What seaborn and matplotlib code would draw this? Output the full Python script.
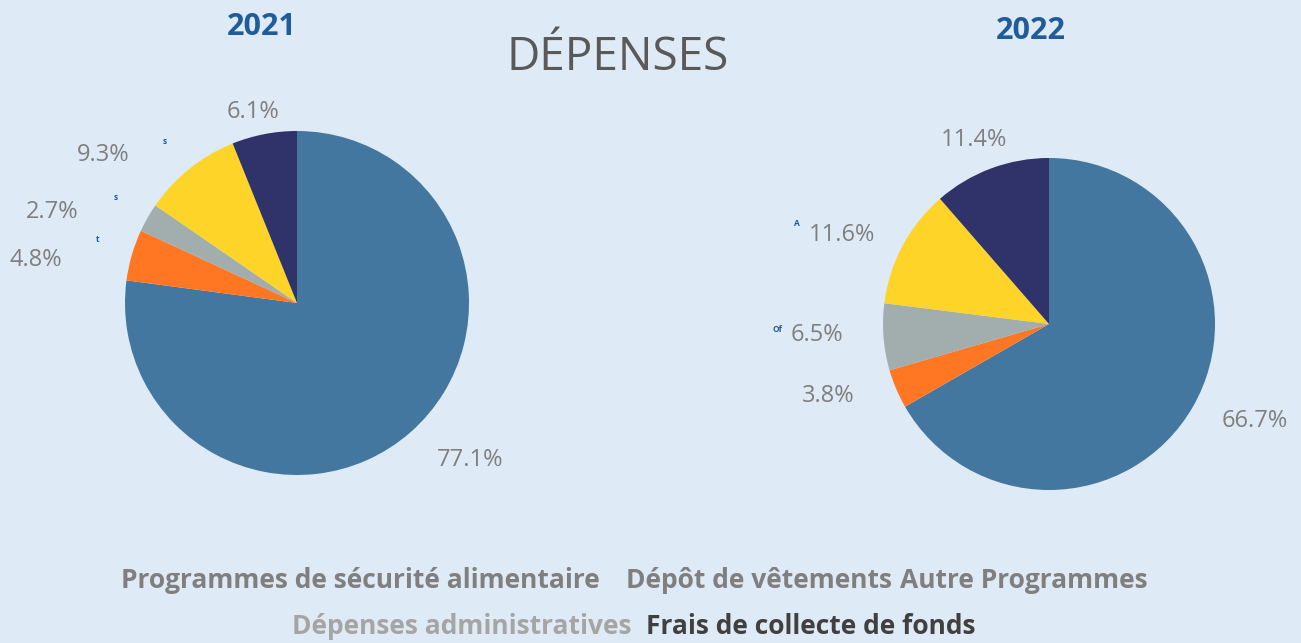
import matplotlib
matplotlib.use("Agg")
import matplotlib.pyplot as plt
import seaborn as sns

# -------------------------
# Data
# -------------------------
categories = [
    "Programmes de sécurité alimentaire",
    "Dépôt de vêtements",
    "Autre Programmes",
    "Dépenses administratives",
    "Frais de collecte de fonds",
]
years = ["2021", "2022"]
values_2021 = [77.1, 4.8, 2.7, 9.3, 6.1]
values_2022 = [66.7, 3.8, 6.5, 11.6, 11.4]

# -------------------------
# Style
# -------------------------
bg = "#DEEAF6"
palette = sns.color_palette(["#44779F", "#FF7722", "#A2ADAD", "#FED428", "#2F3369"])
sns.set_theme(style="white", rc={"figure.facecolor": bg, "axes.facecolor": bg})
plt.rcParams["font.family"] = ["Open Sans", "DejaVu Sans"]

fig = plt.figure(figsize=(13.01, 6.43), dpi=100)
W, H = 1301, 643


def pie_axes(cx, cy, r):
    half = 1.5 * r
    ax = fig.add_axes([(cx - half) / W, (H - cy - half) / H, 2 * half / W, 2 * half / H])
    ax.set_facecolor(bg)
    return ax


# label offsets in pie-radius units (layout only)
label_pos_2021 = [(1.006, -0.913), (-1.517, 0.25), (-1.424, 0.529), (-1.128, 0.860), (-0.256, 1.110)]
label_pos_2022 = [(1.241, -0.584), (-1.331, -0.434), (-1.398, -0.066), (-1.247, 0.536), (-0.452, 1.108)]

for vals, pos, (cx, cy, r) in [
    (values_2021, label_pos_2021, (297, 303, 172)),
    (values_2022, label_pos_2022, (1049, 324, 166)),
]:
    ax = pie_axes(cx, cy, r)
    ax.pie(vals, colors=palette, startangle=90, counterclock=False,
           wedgeprops={"linewidth": 0})
    ax.set_xlim(-1.5, 1.5)
    ax.set_ylim(-1.5, 1.5)
    ax.set_aspect("equal")
    ax.axis("off")
    for v, (x, y) in zip(vals, pos):
        ax.text(x, y, f"{v:.1f}%", ha="center", va="center", fontsize=17,
                color="#7F7F7F")

# stray truncated data labels visible in the source
for s, x, y in [("s", 165, 142), ("s", 116, 198), ("t", 98, 240), ("A", 797, 224), ("Of", 777, 330)]:
    fig.text(x / W, 1 - y / H, s, ha="center", va="center", fontsize=6,
             color="#1F5C99", fontweight="bold")

# -------------------------
# Titles
# -------------------------
fig.text(262 / W, 1 - 27 / H, years[0], ha="center", va="center", fontsize=22,
         fontweight="bold", color="#1F5C99")
fig.text(1031 / W, 1 - 31 / H, years[1], ha="center", va="center", fontsize=22,
         fontweight="bold", color="#1F5C99")
fig.text(618 / W, 1 - 58 / H, "DÉPENSES", ha="center", va="center", fontsize=33,
         color="#595959")

# -------------------------
# Legend (text only, laid out by measured widths)
# -------------------------
legend_colors = ["#7F7F7F", "#7F7F7F", "#7F7F7F", "#A5A5A5", "#404040"]
legend_rows = [([0, 1, 2], [26, 8], 581), ([3, 4], [15], 627)]
renderer = fig.canvas.get_renderer()
for idx, gaps, y in legend_rows:
    texts = [fig.text(0, 1 - y / H, categories[i], ha="left", va="center", fontsize=19,
                      fontweight="bold", color=legend_colors[i]) for i in idx]
    widths = [t.get_window_extent(renderer).width for t in texts]
    total = sum(widths) + sum(gaps)
    x = 634 - total / 2
    for k, t in enumerate(texts):
        t.set_x(x / W)
        x += widths[k] + (gaps[k] if k < len(gaps) else 0)

fig.savefig("out.png", dpi=100, facecolor=bg)
